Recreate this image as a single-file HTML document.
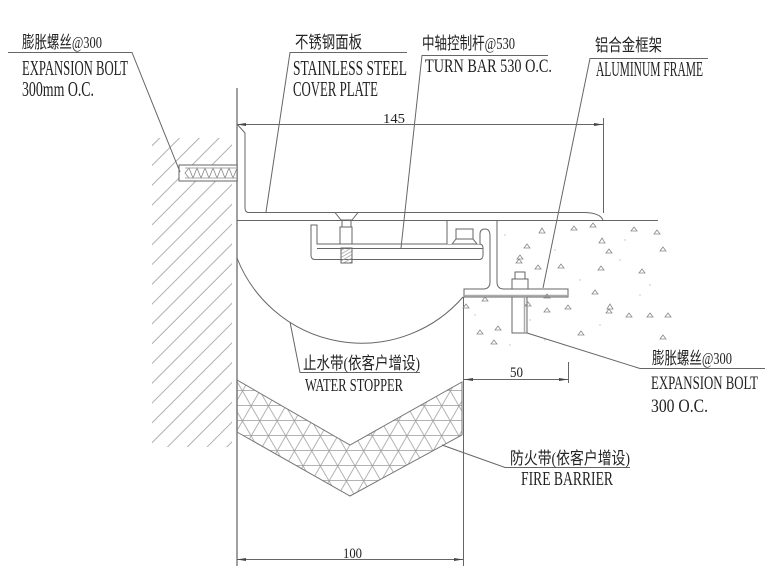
<!DOCTYPE html>
<html><head><meta charset="utf-8"><style>
html,body{margin:0;padding:0;background:#fff;}
svg{display:block;}
.t{font-family:"Liberation Serif","Noto Serif CJK SC",serif;fill:#222;}
.c{font-family:"Liberation Serif","Noto Sans CJK SC",sans-serif;fill:#222;}
</style></head><body>
<svg width="780" height="585" viewBox="0 0 780 585" xmlns="http://www.w3.org/2000/svg">
<defs>
<pattern id="wh" patternUnits="userSpaceOnUse" width="14" height="14" patternTransform="rotate(-45)">
<line x1="0" y1="0.5" x2="14" y2="0.5" stroke="#b0b0b0" stroke-width="1"/>
</pattern>
<pattern id="f0" patternUnits="userSpaceOnUse" width="20" height="15">
<line x1="0" y1="0.5" x2="20" y2="0.5" stroke="#999" stroke-width="0.8"/>
</pattern>
<pattern id="f1" patternUnits="userSpaceOnUse" width="20" height="15" patternTransform="rotate(60)">
<line x1="0" y1="0.5" x2="20" y2="0.5" stroke="#999" stroke-width="0.8"/>
</pattern>
<pattern id="f2" patternUnits="userSpaceOnUse" width="20" height="15" patternTransform="rotate(-60)">
<line x1="0" y1="0.5" x2="20" y2="0.5" stroke="#999" stroke-width="0.8"/>
</pattern>
<pattern id="th" patternUnits="userSpaceOnUse" width="3" height="3" patternTransform="rotate(-30)">
<line x1="0" y1="0.5" x2="3" y2="0.5" stroke="#999" stroke-width="0.7"/>
</pattern>
</defs>

<!-- wall hatch -->
<rect x="152" y="138" width="80" height="309" fill="url(#wh)"/>

<g fill="none" stroke="#666" stroke-width="1">
<!-- wall line -->
<line x1="237" y1="88" x2="237" y2="566" stroke="#888" stroke-width="1.6"/>

<!-- left expansion bolt -->
<rect x="179" y="165" width="58" height="16" fill="#fff"/>
<polyline points="237,168 233,178 229,168 225,178 221,168 217,178 213,168 209,178 205,168 201,178 197,168 193,178 189,168 185,173 189,178" stroke="#888" stroke-width="0.8"/>
<line x1="185" y1="168" x2="237" y2="168" stroke="#aaa"/>
<line x1="185" y1="178" x2="237" y2="178" stroke="#aaa"/>

<!-- cover plate -->
<path d="M237,124 L245,133 L245,208 Q245,212.5 249,212.5 L585,212.5 Q600,213 603,220" />
<line x1="237" y1="220.5" x2="658" y2="220.5"/>

<!-- water stopper arc -->
<path d="M237,258 A134,134 0 0 0 463,297"/>

<!-- turn bar channel -->
<path d="M311,225 L317,225 L317,244 L479,244 Q483,244 483,248 L483,255 Q483,259.5 479,259.5 L315,259.5 Q311,259.5 311,255 Z" fill="#fff"/>
<line x1="317" y1="248.5" x2="483" y2="248.5"/>
<!-- countersunk bolt -->
<polygon points="335,212.5 358,212.5 352,220 341,220" fill="#fff"/>
<line x1="342" y1="220" x2="342" y2="227"/>
<line x1="351" y1="220" x2="351" y2="227"/>
<rect x="340" y="227" width="12" height="17" fill="#fff"/>
<rect x="341" y="248" width="11" height="15" fill="url(#th)"/>

<!-- aluminum frame -->
<path d="M447,244 L447,220.5 L497,220.5 L497,282 Q497,289 504,289 L568,289 L568,297 L464,297 L464,289 L483,289 Q490,289 490,282 L490,236 Q490,229 485,229 Q480,229 480,234 L480,244" fill="#fff"/>
<line x1="464" y1="295.5" x2="568" y2="295.5" stroke="#aaa" stroke-width="1.5"/>
<rect x="456" y="229" width="17" height="10"/>
<polygon points="452,244 456,239 473,239 477,244"/>
<!-- right bolt -->
<rect x="515" y="272" width="10" height="7"/>
<rect x="512" y="279" width="16" height="10"/>
<path d="M512,297 L512,333 L527,333 L527,297"/>
<line x1="524.5" y1="297" x2="524.5" y2="333" stroke="#aaa" stroke-width="1.5"/>
<!-- concrete left edge -->
<line x1="463.5" y1="297" x2="463.5" y2="566"/>

<!-- fire barrier -->
<g>
<polygon points="237,380 350,445 462,382 462,435 350,496 237,432" fill="url(#f0)" stroke="none"/>
<polygon points="237,380 350,445 462,382 462,435 350,496 237,432" fill="url(#f1)" stroke="none"/>
<polygon points="237,380 350,445 462,382 462,435 350,496 237,432" fill="url(#f2)" stroke="none"/>
<polygon points="237,380 350,445 462,382 462,435 350,496 237,432" stroke="#777"/>
</g>

<!-- dimension 145 -->
<line x1="237" y1="124.5" x2="603" y2="124.5"/>
<line x1="603.5" y1="118" x2="603.5" y2="213"/>
<!-- dimension 100 -->
<line x1="237" y1="559.5" x2="463" y2="559.5"/>
<!-- dimension 50 -->
<line x1="464" y1="379.5" x2="568" y2="379.5"/>
<line x1="568.5" y1="362" x2="568.5" y2="383"/>

<!-- leaders -->
<polyline points="8,52.5 132,52.5 180,172"/>
<polyline points="407,52.5 290,52.5 266,212"/>
<polyline points="548,55.5 422,55.5 401,248"/>
<polyline points="708,58.5 590,58.5 543,288"/>
<polyline points="420,372.5 300,372.5 290,322"/>
<polyline points="527,333 640,368.5 765,368.5"/>
<polyline points="442,445 505,467.5 630,467.5"/>
</g>

<!-- arrowheads -->
<g fill="#444" stroke="none">
<polygon points="237,124.5 246,123 246,126"/>
<polygon points="603,124.5 594,123 594,126"/>
<polygon points="237,559.5 246,558 246,561"/>
<polygon points="463,559.5 454,558 454,561"/>
<polygon points="464,379.5 473,378 473,381"/>
<polygon points="568,379.5 559,378 559,381"/>
</g>

<!-- concrete aggregate -->
<g fill="none" stroke="#888" stroke-width="0.8">
<path d="M542,228 l-3,5 l6,0z M574,226 l-3,4 l6,0z M593,223 l-3,4 l6,0z M634,227 l-3,4 l6,0z M657,230 l-3,4 l6,0z M602,238 l-3,5 l6,0z M663,247 l-3,4 l6,0z M609,249 l-3,4 l6,0z M527,244 l-3,4 l6,0z M519,259 l-3,4 l6,0z M561,264 l-3,4 l6,0z M601,266 l-3,4 l6,0z M642,269 l-3,4 l6,0z M595,290 l-3,4 l6,0z M547,294 l-3,4 l6,0z M568,305 l-3,4 l6,0z M547,308 l-3,4 l6,0z M610,304 l-3,5 l6,0z M609,309 l-3,4 l6,0z M629,313 l-3,4 l6,0z M650,313 l-3,4 l6,0z M668,313 l-3,4 l6,0z M581,331 l-3,4 l6,0z M663,335 l-3,4 l6,0z M485,297 l-3,4 l6,0z M466,304 l-3,4 l6,0z M528,302 l-3,4 l6,0z M498,326 l-3,4 l6,0z M494,340 l-3,4 l6,0z M480,330 l-3,4 l6,0z M520,255 l-3,4 l6,0z M538,265 l-3,4 l6,0z"/>
</g>
<g fill="#bbb">
<circle cx="505" cy="235" r="0.7"/><circle cx="555" cy="250" r="0.7"/><circle cx="620" cy="260" r="0.7"/>
<circle cx="580" cy="280" r="0.7"/><circle cx="640" cy="295" r="0.7"/><circle cx="530" cy="320" r="0.7"/>
<circle cx="600" cy="325" r="0.7"/><circle cx="475" cy="315" r="0.7"/><circle cx="545" cy="340" r="0.7"/>
<circle cx="625" cy="240" r="0.7"/><circle cx="650" cy="285" r="0.7"/><circle cx="510" cy="345" r="0.7"/>
</g>

<!-- text -->
<text class="c" x="22" y="48" font-size="17" textLength="80" lengthAdjust="spacingAndGlyphs">膨胀螺丝@300</text>
<text class="t" x="22" y="75" font-size="21" textLength="106" lengthAdjust="spacingAndGlyphs">EXPANSION BOLT</text>
<text class="t" x="22" y="96" font-size="21" textLength="72" lengthAdjust="spacingAndGlyphs">300mm O.C.</text>

<text class="c" x="295" y="48" font-size="17" textLength="67" lengthAdjust="spacingAndGlyphs">不锈钢面板</text>
<text class="t" x="293" y="75" font-size="21" textLength="114" lengthAdjust="spacingAndGlyphs">STAINLESS STEEL</text>
<text class="t" x="293" y="96" font-size="21" textLength="85" lengthAdjust="spacingAndGlyphs">COVER PLATE</text>

<text class="c" x="422" y="49" font-size="17" textLength="93" lengthAdjust="spacingAndGlyphs">中轴控制杆@530</text>
<text class="t" x="425" y="72" font-size="19" textLength="127" lengthAdjust="spacingAndGlyphs">TURN BAR 530 O.C.</text>

<text class="c" x="595" y="51" font-size="17" textLength="67" lengthAdjust="spacingAndGlyphs">铝合金框架</text>
<text class="t" x="596" y="76" font-size="21" textLength="107" lengthAdjust="spacingAndGlyphs">ALUMINUM FRAME</text>

<text class="t" x="383" y="123" font-size="14" textLength="22" lengthAdjust="spacingAndGlyphs">145</text>

<text class="c" x="303" y="369" font-size="17" textLength="117" lengthAdjust="spacingAndGlyphs">止水带(依客户增设)</text>
<text class="t" x="305" y="391" font-size="18" textLength="98" lengthAdjust="spacingAndGlyphs">WATER STOPPER</text>

<text class="t" x="510" y="377" font-size="15" textLength="13" lengthAdjust="spacingAndGlyphs">50</text>

<text class="c" x="652" y="364" font-size="17" textLength="80" lengthAdjust="spacingAndGlyphs">膨胀螺丝@300</text>
<text class="t" x="651" y="389" font-size="19" textLength="107" lengthAdjust="spacingAndGlyphs">EXPANSION BOLT</text>
<text class="t" x="651" y="412" font-size="19" textLength="57" lengthAdjust="spacingAndGlyphs">300 O.C.</text>

<text class="c" x="510" y="464" font-size="17" textLength="120" lengthAdjust="spacingAndGlyphs">防火带(依客户增设)</text>
<text class="t" x="521" y="485" font-size="20" textLength="92" lengthAdjust="spacingAndGlyphs">FIRE BARRIER</text>

<text class="t" x="343" y="558" font-size="15" textLength="19" lengthAdjust="spacingAndGlyphs">100</text>
</svg>
</body></html>
